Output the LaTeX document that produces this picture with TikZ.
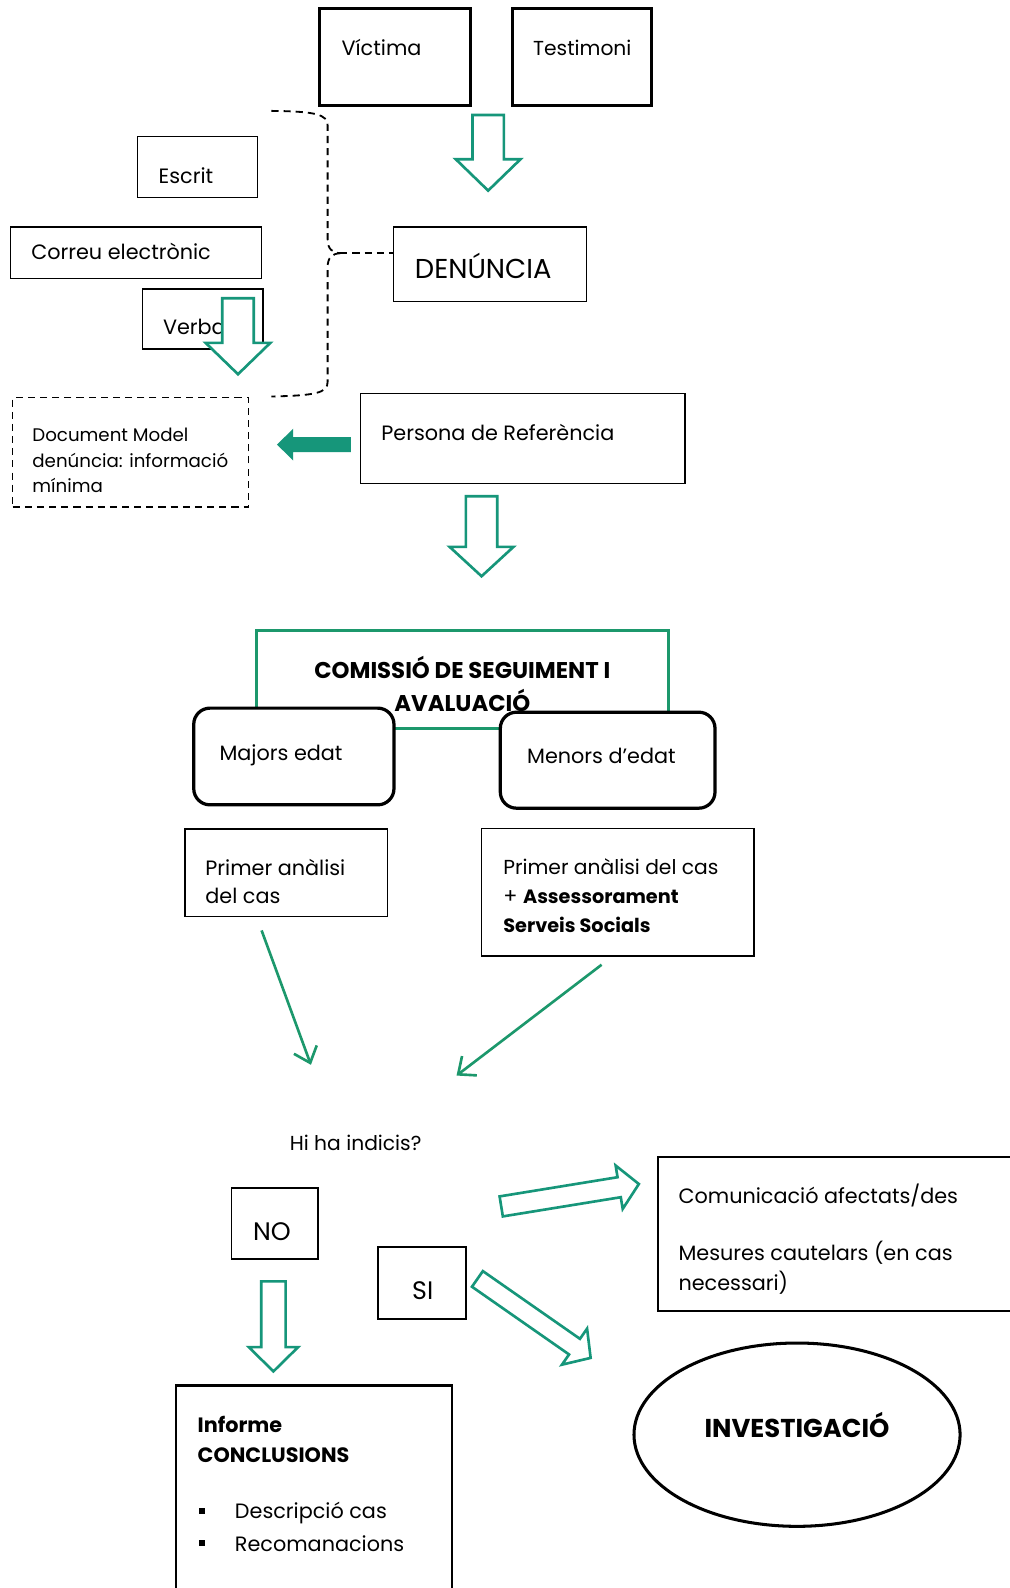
\documentclass[tikz,border=0pt]{standalone}
\usepackage{fontspec}
\setmainfont{Poppins}
\usetikzlibrary{arrows.meta,shapes.geometric}
\definecolor{tealA}{RGB}{22,150,122}
\definecolor{grnA}{RGB}{28,152,108}
\newcommand{\fsz}[1]{\fontsize{#1}{#1}\selectfont}
\tikzset{
  every node/.style={inner sep=0pt, outer sep=0pt},
  lbl/.style={anchor=base west, font=\fsz{20.5}},
  box/.style={draw, line width=1.3pt, anchor=north west},
  thickbox/.style={box, line width=3pt},
  roundbox/.style={box, line width=3.2pt, rounded corners=16pt, fill=white},
  dashline/.style={line width=1.8pt, dash pattern=on 7pt off 5pt},
  thinarrow/.style={draw=grnA, line width=2.6pt, -{Straight Barb[length=14pt,width=24pt,line width=2.6pt]}},
  hol/.style={draw=tealA, line width=2.6pt, fill=white, line join=miter},
  pics/harrow/.style args={#1/#2/#3/#4}{code={
     \draw[hol] (0,-#2) -- ({#1-#4},-#2) -- ({#1-#4},-#3) -- (#1,0) -- ({#1-#4},#3) -- ({#1-#4},#2) -- (0,#2) -- cycle;}},
  pics/farrow/.style args={#1/#2/#3/#4}{code={
     \fill[tealA] (0,-#2) -- ({#1-#4},-#2) -- ({#1-#4},-#3) -- (#1,0) -- ({#1-#4},#3) -- ({#1-#4},#2) -- (0,#2) -- cycle;}},
}
\begin{document}
\begin{tikzpicture}[x=1pt,y=-1pt]
\useasboundingbox[fill=white] (0,0) rectangle (997,1568);

% top boxes
\node[thickbox, minimum width=150pt, minimum height=96pt] (vic) at (315,8.2) {};
\node[lbl] (tvic) at (337.3,54.5) {Víctima};
\node[thickbox, minimum width=137pt, minimum height=96pt] (tes) at (506,8.5) {};
\node[lbl, font=\fsz{20}] (ttes) at (526.5,54.5) {Testimoni};
\pic (a1) at (482,113.5) [rotate=-90] {harrow=74.7/15.5/32/31};

% channels
\node[box, minimum width=119pt, minimum height=60pt] (esc) at (135.5,135) {};
\node[lbl] (tesc) at (156.7,181.5) {Escrit};
\node[box, minimum width=247.7pt, minimum height=51pt] (cor) at (10.6,224) {};
\node[lbl] (tcor) at (30.9,256.5) {Correu electrònic};
\node[box, minimum width=119.2pt, minimum height=59.2pt] (verb) at (140.4,285.3) {};
\node[lbl] (tverb) at (161,330.5) {Verbal};
\pic (a2) at (235,294.5) [rotate=-90] {harrow=75/15.5/32/31};

% denuncia
\node[box, minimum width=190.3pt, minimum height=73.5pt] (den) at (388.5,224) {};
\node[lbl, font=\fsz{27}] (tden) at (409.7,275) {DENÚNCIA};

% brace
\coordinate (bt) at (336,250);
\draw[dashline] (268,109.5) .. controls (312,110) and (323.5,113) .. (323.5,124) -- (323.5,236) .. controls (323.5,246) and (328,249.5) .. (bt);
\draw[dashline] (bt) .. controls (328,250.5) and (323.5,254) .. (323.5,264) -- (323.5,377) .. controls (323.5,388) and (312,390.5) .. (268,391.5);
\draw[dashline] (bt) -- (bt -| den.west);

% persona / document
\node[box, minimum width=320.5pt, minimum height=88.8pt] (per) at (355.9,388.3) {};
\node[lbl] (tper) at (376.6,434.5) {Persona de Referència};
\node[box, line width=1.4pt, dash pattern=on 7pt off 5pt, minimum width=233pt, minimum height=108pt] (doc) at (12.5,392.6) {};
\node[lbl, font=\fsz{18}] (tdoc1) at (32,436) {Document Model};
\node[lbl, font=\fsz{18}] (tdoc2) at (32,461.3) {denúncia: informació};
\node[lbl, font=\fsz{18}] (tdoc3) at (32,486.4) {mínima};
\pic (a3) at (346.5,439) [rotate=180] {farrow=73/7.5/15.7/16};
\pic (a4) at (475.5,490) [rotate=-90] {harrow=79/15.5/31.5/29};

% comissio
\node[box, draw=grnA, line width=3pt, minimum width=407pt, minimum height=96.5pt] (com) at (252.9,622.6) {};
\node[anchor=base, font=\bfseries\fsz{22.5}] (tcom1) at (456.5,670) {COMISSIÓ DE SEGUIMENT I};
\node[anchor=base, font=\bfseries\fsz{22.5}] (tcom2) at (456.5,703) {AVALUACIÓ};
\node[roundbox, minimum width=197.7pt, minimum height=95.5pt] (maj) at (191.3,699.2) {};
\node[lbl] (tmaj) at (216.8,751) {Majors edat};
\node[roundbox, minimum width=212pt, minimum height=94.8pt] (men) at (494,703.2) {};
\node[lbl] (tmen) at (520.5,753.5) {Menors d’edat};

% primer analisi
\node[box, minimum width=200pt, minimum height=86.3pt] (pa1) at (182.6,818.7) {};
\node[lbl] (tpa1a) at (202.8,864.5) {Primer anàlisi};
\node[lbl] (tpa1b) at (202.8,892.5) {del cas};
\node[box, minimum width=269pt, minimum height=126pt] (pa2) at (475.5,818) {};
\node[lbl, font=\fsz{20}] (tpa2a) at (497,863.5) {Primer anàlisi del cas};
\node[lbl] (tpa2b) at (497,892.5) {+ \fsz{19}\textbf{Assessorament}};
\node[lbl, font=\bfseries\fsz{19}] (tpa2c) at (497,921.2) {Serveis Socials};

\coordinate (s1) at (258.3,918.7);
\coordinate (t1) at (307,1051.4);
\coordinate (s2) at (594,952.6);
\coordinate (t2) at (450.8,1062);
\draw[thinarrow] (s1) -- (t1);
\draw[thinarrow] (s2) -- (t2);

% decision
\node[lbl, font=\fsz{20}] (tind) at (286.2,1136) {Hi ha indicis?};
\node[box, line width=1.8pt, minimum width=85.8pt, minimum height=70pt] (no) at (228.5,1173) {};
\node[lbl, font=\fsz{25}] (tno) at (250,1225) {NO};
\node[box, line width=1.8pt, minimum width=86.7pt, minimum height=71pt] (si) at (373.3,1231) {};
\node[lbl, font=\fsz{25}] (tsi) at (407,1283) {SI};

\pic (a5) at (494.9,1191.2) [rotate=9.24] {harrow=137.7/10/21.7/19.7};
\pic (a6) at (471.4,1262.8) [rotate=-34.9] {harrow=136.3/9.4/21.7/19.4};
\pic (a7) at (270,1265.2) [rotate=-90] {harrow=88.9/12/24.4/24};

% comunicacio
\node[anchor=north west, minimum width=347pt, minimum height=152.3pt] (cmm) at (650,1142.5) {};
\draw[line width=2pt] (cmm.north east) -- (cmm.north west) -- (cmm.south west) -- (cmm.south east);
\node[lbl] (tcmm1) at (670,1188) {Comunicació afectats/des};
\node[lbl] (tcmm2) at (670,1245) {Mesures cautelars (en cas};
\node[lbl] (tcmm3) at (670,1274.5) {necessari)};

% informe
\node[anchor=north west, minimum width=272pt, minimum height=200pt] (inf) at (174,1368) {};
\draw[line width=2.2pt] (inf.south west) -- (inf.north west) -- (inf.north east) -- (inf.south east);
\node[lbl, font=\bfseries\fsz{20.5}] (tinf1) at (195.2,1414) {Informe};
\node[lbl, font=\bfseries\fsz{20.5}] (tinf2) at (195.2,1444) {CONCLUSIONS};
\node[fill, minimum size=6pt] (bul1) at (199.5,1492.3) {};
\node[fill, minimum size=6pt] (bul2) at (199.5,1524) {};
\node[lbl] (tinf3) at (232,1499.5) {Descripció cas};
\node[lbl] (tinf4) at (232,1531.5) {Recomanacions};

% investigacio
\node[draw, ellipse, line width=3pt, minimum width=322pt, minimum height=181pt] (inv) at (787,1416.6) {};
\node[anchor=base, font=\bfseries\fsz{25.5}] (tinv) at (787,1419.5) {INVESTIGACIÓ};
\end{tikzpicture}
\end{document}
